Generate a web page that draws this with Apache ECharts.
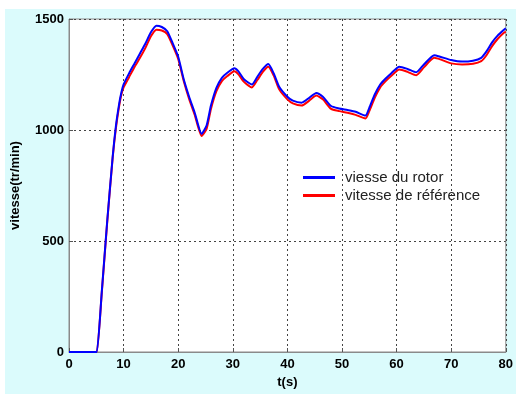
<!DOCTYPE html>
<html>
<head>
<meta charset="utf-8">
<script src="https://cdn.jsdelivr.net/npm/echarts@6/dist/echarts.min.js"></script>
<style>
  html, body { margin: 0; padding: 0; background: #ffffff; }
  #bg { position: absolute; left: 5px; top: 9px; width: 511px; height: 385px; background: #dbfbfc; }
  #chart { position: absolute; left: 0; top: 0; width: 516px; height: 394px; }
</style>
</head>
<body>
<div id="bg"></div>
<div id="chart"></div>
<script>
// Time samples (s)
const time = [0, 4.9, 5.1, 6, 7, 8, 8.6, 9.2, 9.6, 10, 11, 12, 13, 14, 15, 16, 17, 18, 19, 20, 21, 22, 23, 24.3,
  25.2, 26, 27, 28, 29, 30.3, 31, 32, 33.5, 34.5, 35.5, 36.5, 37.5, 38.5, 40, 41, 42.6, 44, 45.3, 46.5, 48,
  49.5, 51, 52.5, 54.3, 55, 56, 57, 58, 59, 60.5, 62, 63.6, 65, 66.9, 68, 70, 72, 74, 75.5, 76.5, 77.5,
  78.5, 79.5, 80];

// Rotor speed (tr/min)
const rotorSpeed = [0, 0, 0, 270, 590, 880, 1020, 1120, 1170, 1205, 1255, 1300, 1345, 1390, 1440, 1470, 1464, 1445,
  1390, 1330, 1230, 1150, 1080, 983, 1020, 1110, 1190, 1235, 1258, 1278, 1265, 1230, 1205, 1240, 1275,
  1297, 1255, 1195, 1150, 1132, 1123, 1145, 1167, 1150, 1108, 1097, 1090, 1082, 1065, 1100, 1160, 1205,
  1232, 1255, 1285, 1275, 1260, 1295, 1337, 1330, 1315, 1308, 1312, 1325, 1355, 1395, 1425, 1448, 1458];

// Reference speed (tr/min)
const refSpeed = [0, 0, 0, 265, 585, 875, 1010, 1110, 1160, 1192, 1238, 1284, 1325, 1370, 1422, 1452, 1448, 1432,
  1380, 1320, 1222, 1140, 1070, 973, 1005, 1095, 1175, 1220, 1243, 1265, 1252, 1218, 1192, 1225, 1262,
  1285, 1245, 1183, 1138, 1120, 1110, 1132, 1155, 1138, 1095, 1085, 1078, 1068, 1052, 1085, 1145, 1192,
  1220, 1243, 1272, 1262, 1247, 1282, 1325, 1318, 1300, 1295, 1298, 1310, 1338, 1378, 1410, 1435, 1443];

const xTicks = [0, 10, 20, 30, 40, 50, 60, 70, 80];
const yTicks = [0, 500, 1000, 1500];

const pairs = (ys) => time.map((t, i) => [t, ys[i]]);

const chart = echarts.init(document.getElementById('chart'), null, { renderer: 'canvas' });
const labelFont = { color: '#000', fontFamily: 'Liberation Sans, Arial', fontWeight: 'bold', fontSize: 13 };
const gridLine = { show: true, lineStyle: { color: '#444', type: [2, 3], width: 1 } };

chart.setOption({
  backgroundColor: 'transparent',
  animation: false,
  grid: {
    left: 69, right: 8, top: 19, bottom: 38,
    show: true, backgroundColor: '#ffffff', borderColor: '#8a8a8a', borderWidth: 1
  },
  legend: {
    orient: 'vertical',
    left: 298, top: 165,
    itemWidth: 32, itemHeight: 3, itemGap: 3,
    icon: 'rect',
    textStyle: { color: '#222', fontFamily: 'Liberation Sans, Arial', fontSize: 15, padding: [0, 0, 0, 5] },
    data: ['viesse du rotor', 'vitesse de référence']
  },
  xAxis: {
    type: 'value', min: 0, max: 80, interval: 10,
    name: 't(s)', nameLocation: 'middle', nameGap: 24,
    nameTextStyle: labelFont,
    axisLine: { show: true, lineStyle: { color: '#8a8a8a' } },
    axisTick: { show: true, inside: true, length: 4, lineStyle: { color: '#555' } },
    axisLabel: Object.assign({ margin: 6, formatter: (v) => xTicks.includes(v) ? String(v) : '' }, labelFont),
    splitLine: gridLine
  },
  yAxis: {
    type: 'value', min: 0, max: 1500, interval: 500,
    name: 'vitesse(tr/min)', nameLocation: 'middle', nameGap: 47,
    nameTextStyle: labelFont,
    axisLine: { show: true, lineStyle: { color: '#8a8a8a' } },
    axisTick: { show: true, inside: true, length: 4, lineStyle: { color: '#555' } },
    axisLabel: Object.assign({ margin: 5, formatter: (v) => yTicks.includes(v) ? String(v) : '' }, labelFont),
    splitLine: gridLine
  },
  series: [
    {
      name: 'vitesse de référence', type: 'line', data: pairs(refSpeed),
      showSymbol: false, smooth: 0.2, color: '#ff0000',
      lineStyle: { width: 2, color: '#ff0000' }, z: 2
    },
    {
      name: 'viesse du rotor', type: 'line', data: pairs(rotorSpeed),
      showSymbol: false, smooth: 0.2, color: '#0000ff',
      lineStyle: { width: 2, color: '#0000ff' }, z: 3
    }
  ]
});
</script>
</body>
</html>
